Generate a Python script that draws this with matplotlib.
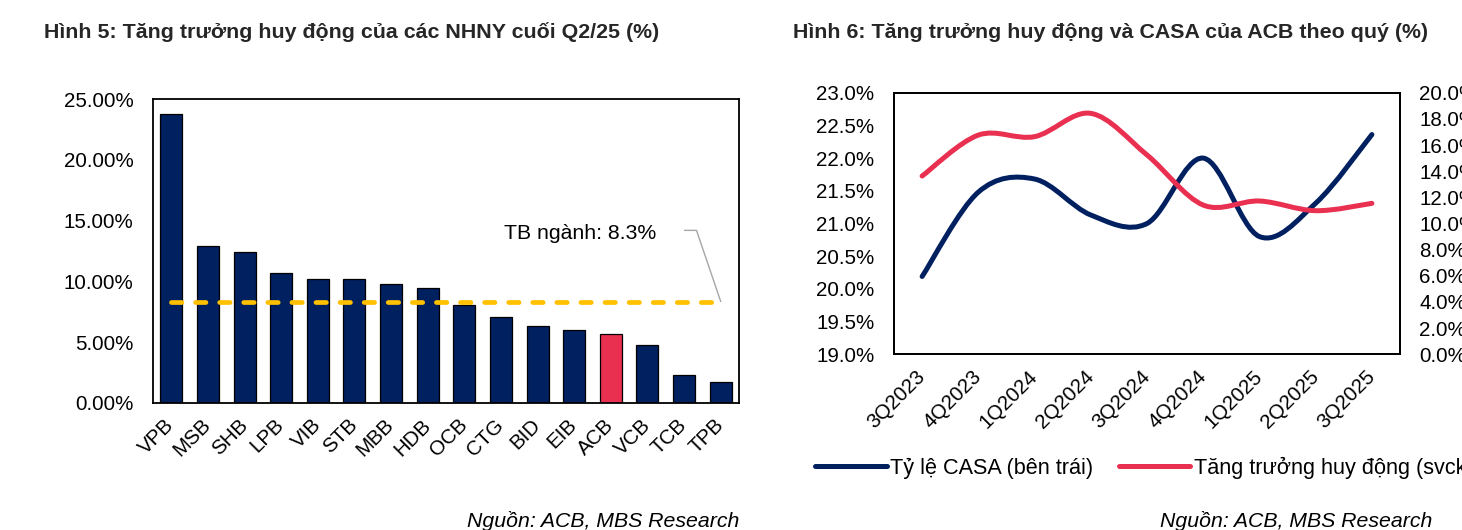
import numpy as np
import matplotlib
matplotlib.use("Agg")
import matplotlib.pyplot as plt
from matplotlib.path import Path
from matplotlib.patches import PathPatch
from matplotlib.lines import Line2D
from matplotlib.ticker import FuncFormatter

plt.rcParams['font.family'] = ['Liberation Sans', 'DejaVu Sans']

# ---------------- data ----------------
banks = ["VPB", "MSB", "SHB", "LPB", "VIB", "STB", "MBB", "HDB", "OCB", "CTG",
         "BID", "EIB", "ACB", "VCB", "TCB", "TPB"]
deposit_growth = [23.82, 12.89, 12.42, 10.68, 10.21, 10.16, 9.75, 9.47, 8.09, 7.10,
                  6.28, 5.97, 5.62, 4.79, 2.26, 1.71]
industry_avg = 8.3
highlight_bank = "ACB"

quarters = ["3Q2023", "4Q2023", "1Q2024", "2Q2024", "3Q2024", "4Q2024",
            "1Q2025", "2Q2025", "3Q2025"]
casa_ratio = [20.19, 21.48, 21.68, 21.13, 21.00, 22.00, 20.80, 21.31, 22.36]
acb_deposit_growth = [13.63, 16.76, 16.64, 18.42, 15.24, 11.41, 11.72, 10.98, 11.54]

NAVY = "#002060"
RED = "#EA3050"
GOLD = "#FFC000"
FS = 14.8
FS_TXT = 15.3
FS_TITLE = 15.4

fig = plt.figure(figsize=(14.62, 5.30), dpi=100)
W, H = 1462, 530


def ax_rect(x0, y0, x1, y1):
    return [x0 / W, 1 - y1 / H, (x1 - x0) / W, (y1 - y0) / H]


# ---------------- left chart ----------------
ax1 = fig.add_axes(ax_rect(153, 99.3, 739, 402.7))
x = np.arange(len(banks))
colors = [RED if b == highlight_bank else NAVY for b in banks]
ax1.bar(x, deposit_growth, width=0.6, color=colors, edgecolor="black", linewidth=0.9, zorder=2)
ax1.plot([0, 14.95], [industry_avg, industry_avg], color=GOLD, lw=3.4,
         dashes=(2.2, 2.9), dash_capstyle="round", zorder=3)
ax1.set_xlim(-0.5, len(banks) - 0.5)
ax1.set_ylim(0, 25)
ax1.set_yticks(np.arange(0, 25.01, 5))
ax1.yaxis.set_major_formatter(FuncFormatter(lambda v, p: f"{v:.2f}%"))
ax1.set_xticks(x)
ax1.set_xticklabels(banks, rotation=45, ha="right", va="center", rotation_mode="anchor")
ax1.tick_params(axis="y", length=0, pad=14, labelsize=FS)
ax1.tick_params(axis="x", length=0, pad=14, labelsize=FS)
for s in ax1.spines.values():
    s.set_linewidth(1.3)
ax1.text(11.15, 13.95, f"TB ngành: {industry_avg}%", ha="center", va="center", fontsize=FS_TXT)
ax1.plot([14.02, 14.34, 15.0], [14.2, 14.2, industry_avg + 0.05], color="#A6A6A6", lw=1.0)

fig.text(44 / W, 1 - 32 / H, "Hình 5: Tăng trưởng huy động của các NHNY cuối Q2/25 (%)",
         fontsize=FS_TITLE, fontweight="bold", color="#262626", ha="left", va="center")

# ---------------- right chart ----------------
ax2 = fig.add_axes(ax_rect(894, 92.7, 1400, 354.3))
ax3 = ax2.twinx()
q = np.arange(len(quarters))


def smooth_path(xs, ys):
    xs = np.asarray(xs, float)
    ys = np.asarray(ys, float)
    n = len(xs)
    pts = np.column_stack([xs, ys])
    verts = [pts[0]]
    codes = [Path.MOVETO]
    for i in range(n - 1):
        p0 = pts[i - 1] if i > 0 else pts[i]
        p1 = pts[i]
        p2 = pts[i + 1]
        p3 = pts[i + 2] if i + 2 < n else pts[i + 1]
        c1 = p1 + (p2 - p0) / 6.0
        c2 = p2 - (p3 - p1) / 6.0
        verts += [c1, c2, p2]
        codes += [Path.CURVE4] * 3
    return Path(verts, codes)


ax2.add_patch(PathPatch(smooth_path(q, casa_ratio), facecolor="none", edgecolor=NAVY,
                        lw=3.6, capstyle="round", joinstyle="round", zorder=3))
ax3.add_patch(PathPatch(smooth_path(q, acb_deposit_growth), facecolor="none", edgecolor=RED,
                        lw=3.6, capstyle="round", joinstyle="round", zorder=3))

ax2.set_xlim(-0.5, len(quarters) - 0.5)
ax2.set_ylim(19.0, 23.0)
ax2.set_yticks(np.arange(19.0, 23.01, 0.5))
ax2.yaxis.set_major_formatter(FuncFormatter(lambda v, p: f"{v:.1f}%"))
ax3.set_ylim(0, 20)
ax3.set_yticks(np.arange(0, 20.01, 2))
ax3.yaxis.set_major_formatter(FuncFormatter(lambda v, p: f"{v:.1f}%"))
ax2.set_xticks(q)
ax2.set_xticklabels(quarters, rotation=45, ha="right", va="center", rotation_mode="anchor")
ax2.tick_params(axis="y", length=0, pad=14, labelsize=FS)
ax2.tick_params(axis="x", length=0, pad=14, labelsize=FS)
ax3.tick_params(axis="y", length=0, pad=14, labelsize=FS)
for a in (ax2, ax3):
    for s in a.spines.values():
        s.set_linewidth(1.3)

fig.text(793 / W, 1 - 32 / H, "Hình 6: Tăng trưởng huy động và CASA của ACB theo quý (%)",
         fontsize=FS_TITLE, fontweight="bold", color="#262626", ha="left", va="center")

handles = [Line2D([], [], color=NAVY, lw=3.6, solid_capstyle="round"),
           Line2D([], [], color=RED, lw=3.6, solid_capstyle="round")]
fig.legend(handles, ["Tỷ lệ CASA (bên trái)", "Tăng trưởng huy động (svck, bên phải)"],
           loc="center left", bbox_to_anchor=(815 / W, 1 - 468 / H), ncol=2, frameon=False,
           fontsize=15.6, handlelength=3.3, handletextpad=0.15, columnspacing=1.2,
           borderpad=0, borderaxespad=0)

# ---------------- sources ----------------
fig.text(739 / W, 1 - 511 / H, "Nguồn: ACB, MBS Research", fontsize=FS_TXT, style="italic",
         ha="right", va="top")
fig.text(1432 / W, 1 - 511 / H, "Nguồn: ACB, MBS Research", fontsize=FS_TXT, style="italic",
         ha="right", va="top")

fig.savefig("out.png", dpi=100)
